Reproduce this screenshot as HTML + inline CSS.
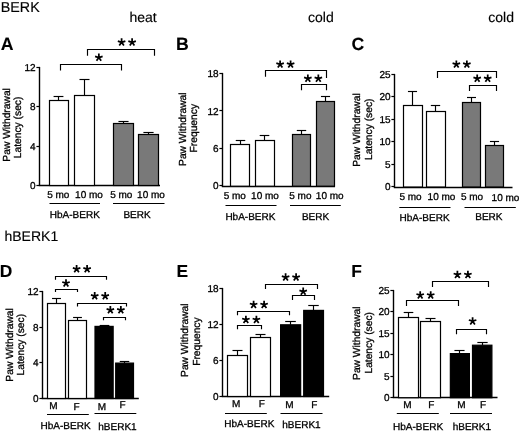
<!DOCTYPE html>
<html><head><meta charset="utf-8"><title>Figure</title>
<style>
html,body{margin:0;padding:0;background:#fff;}
body{width:520px;height:432px;overflow:hidden;}
svg{display:block;will-change:transform;font-family:"Liberation Sans",sans-serif;fill:#000;}
text{stroke:#000;stroke-width:0.3px;text-rendering:geometricPrecision;}
</style></head><body>
<svg width="520" height="432" viewBox="0 0 520 432">
<rect x="0" y="0" width="520" height="432" fill="#fff"/>
<text x="0.80" y="11.70" font-size="14.3" text-anchor="start" style="stroke-width:0.15px">BERK</text>
<text x="4.50" y="241.20" font-size="14" text-anchor="start" style="stroke-width:0.15px">hBERK1</text>
<text x="129.50" y="21.70" font-size="14" text-anchor="start" style="stroke-width:0.15px">heat</text>
<text x="308.00" y="21.70" font-size="14" text-anchor="start" style="stroke-width:0.15px">cold</text>
<text x="488.30" y="21.70" font-size="14" text-anchor="start" style="stroke-width:0.15px">cold</text>
<text x="0.80" y="50.30" font-size="17.7" text-anchor="start" font-weight="bold" style="stroke-width:0.1px">A</text>
<text x="176.00" y="50.30" font-size="17.7" text-anchor="start" font-weight="bold" style="stroke-width:0.1px">B</text>
<text x="351.40" y="50.10" font-size="17.7" text-anchor="start" font-weight="bold" style="stroke-width:0.1px">C</text>
<text x="-0.30" y="276.90" font-size="17.4" text-anchor="start" font-weight="bold" style="stroke-width:0.1px">D</text>
<text x="176.40" y="277.10" font-size="17.4" text-anchor="start" font-weight="bold" style="stroke-width:0.1px">E</text>
<text x="351.30" y="277.20" font-size="17.4" text-anchor="start" font-weight="bold" style="stroke-width:0.1px">F</text>
<path d="M39.50 66.90L39.50 185.50" stroke="#000" stroke-width="1.4" fill="none"/>
<path d="M38.80 185.50L160.00 185.50" stroke="#000" stroke-width="1.3" fill="none"/>
<path d="M36.40 67.50L39.50 67.50" stroke="#000" stroke-width="1.2" fill="none"/>
<text x="35.50" y="71.10" font-size="10" text-anchor="end">12</text>
<path d="M36.40 106.50L39.50 106.50" stroke="#000" stroke-width="1.2" fill="none"/>
<text x="35.50" y="110.30" font-size="10" text-anchor="end">8</text>
<path d="M36.40 146.50L39.50 146.50" stroke="#000" stroke-width="1.2" fill="none"/>
<text x="35.50" y="149.60" font-size="10" text-anchor="end">4</text>
<path d="M36.40 185.50L39.50 185.50" stroke="#000" stroke-width="1.2" fill="none"/>
<text x="35.50" y="188.90" font-size="10" text-anchor="end">0</text>
<path d="M58.50 100.50L58.50 96.50" stroke="#000" stroke-width="1.15" fill="none"/>
<path d="M53.58 96.50L63.42 96.50" stroke="#000" stroke-width="1.15" fill="none"/>
<rect x="49.50" y="100.50" width="19.00" height="85.00" fill="#fff" stroke="#000" stroke-width="1.2"/>
<path d="M84.50 95.50L84.50 79.50" stroke="#000" stroke-width="1.15" fill="none"/>
<path d="M79.50 79.50L89.50 79.50" stroke="#000" stroke-width="1.15" fill="none"/>
<rect x="74.50" y="95.50" width="20.00" height="90.00" fill="#fff" stroke="#000" stroke-width="1.2"/>
<path d="M123.50 123.50L123.50 121.50" stroke="#000" stroke-width="1.15" fill="none"/>
<path d="M118.45 121.50L128.55 121.50" stroke="#000" stroke-width="1.15" fill="none"/>
<rect x="113.50" y="123.50" width="20.00" height="62.00" fill="#797979" stroke="#000" stroke-width="1.2"/>
<path d="M148.50 134.50L148.50 132.50" stroke="#000" stroke-width="1.15" fill="none"/>
<path d="M143.40 132.50L153.60 132.50" stroke="#000" stroke-width="1.15" fill="none"/>
<rect x="138.50" y="134.50" width="20.00" height="51.00" fill="#797979" stroke="#000" stroke-width="1.2"/>
<path d="M60.50 70.50L60.50 64.50L121.50 64.50L121.50 70.50" stroke="#000" stroke-width="1.15" fill="none" stroke-linejoin="miter"/>
<path d="M87.50 55.70L87.50 49.50L154.50 49.50L154.50 55.70" stroke="#000" stroke-width="1.15" fill="none" stroke-linejoin="miter"/>
<path d="M98.85 57.55L98.85 53.60M98.85 57.55L102.61 56.33M98.85 57.55L101.17 60.75M98.85 57.55L96.53 60.75M98.85 57.55L95.09 56.33" stroke="#000" stroke-width="1.75" fill="none"/>
<path d="M121.60 42.30L121.60 38.35M121.60 42.30L125.36 41.08M121.60 42.30L123.92 45.50M121.60 42.30L119.28 45.50M121.60 42.30L117.84 41.08" stroke="#000" stroke-width="1.75" fill="none"/>
<path d="M132.10 42.30L132.10 38.35M132.10 42.30L135.86 41.08M132.10 42.30L134.42 45.50M132.10 42.30L129.78 45.50M132.10 42.30L128.34 41.08" stroke="#000" stroke-width="1.75" fill="none"/>
<text x="58.30" y="198.30" font-size="10" text-anchor="middle">5 mo</text>
<text x="89.00" y="198.30" font-size="10" text-anchor="middle">10 mo</text>
<text x="121.25" y="198.30" font-size="10" text-anchor="middle">5 mo</text>
<text x="151.00" y="198.30" font-size="10" text-anchor="middle">10 mo</text>
<path d="M49.50 203.50L100.00 203.50" stroke="#000" stroke-width="1.2" fill="none"/>
<path d="M113.00 203.50L164.50 203.50" stroke="#000" stroke-width="1.2" fill="none"/>
<text x="74.80" y="218.20" font-size="10" text-anchor="middle">HbA-BERK</text>
<text x="137.00" y="218.20" font-size="10" text-anchor="middle">BERK</text>
<text x="9.90" y="124.90" font-size="10.25" text-anchor="middle" transform="rotate(-90 9.90 124.90)">Paw Withdrawal</text>
<text x="21.40" y="127.40" font-size="10.25" text-anchor="middle" transform="rotate(-90 21.40 127.40)">Latency (sec)</text>
<path d="M222.50 72.90L222.50 186.50" stroke="#000" stroke-width="1.4" fill="none"/>
<path d="M221.80 186.50L335.00 186.50" stroke="#000" stroke-width="1.3" fill="none"/>
<path d="M219.40 73.50L222.50 73.50" stroke="#000" stroke-width="1.2" fill="none"/>
<text x="218.50" y="77.30" font-size="10" text-anchor="end">18</text>
<path d="M219.40 110.50L222.50 110.50" stroke="#000" stroke-width="1.2" fill="none"/>
<text x="218.50" y="114.50" font-size="10" text-anchor="end">12</text>
<path d="M219.40 148.50L222.50 148.50" stroke="#000" stroke-width="1.2" fill="none"/>
<text x="218.50" y="152.10" font-size="10" text-anchor="end">6</text>
<path d="M219.40 185.50L222.50 185.50" stroke="#000" stroke-width="1.2" fill="none"/>
<text x="218.50" y="189.40" font-size="10" text-anchor="end">0</text>
<path d="M240.50 144.50L240.50 140.50" stroke="#000" stroke-width="1.15" fill="none"/>
<path d="M235.75 140.50L245.25 140.50" stroke="#000" stroke-width="1.15" fill="none"/>
<rect x="230.50" y="144.50" width="19.00" height="41.70" fill="#fff" stroke="#000" stroke-width="1.2"/>
<path d="M264.50 140.50L264.50 135.50" stroke="#000" stroke-width="1.15" fill="none"/>
<path d="M259.68 135.50L269.32 135.50" stroke="#000" stroke-width="1.15" fill="none"/>
<rect x="255.50" y="140.50" width="19.00" height="45.70" fill="#fff" stroke="#000" stroke-width="1.2"/>
<path d="M301.50 134.50L301.50 130.50" stroke="#000" stroke-width="1.15" fill="none"/>
<path d="M296.80 130.50L306.20 130.50" stroke="#000" stroke-width="1.15" fill="none"/>
<rect x="292.50" y="134.50" width="18.00" height="51.70" fill="#797979" stroke="#000" stroke-width="1.2"/>
<path d="M325.50 101.50L325.50 96.50" stroke="#000" stroke-width="1.15" fill="none"/>
<path d="M320.95 96.50L330.05 96.50" stroke="#000" stroke-width="1.15" fill="none"/>
<rect x="316.50" y="101.50" width="18.00" height="84.70" fill="#797979" stroke="#000" stroke-width="1.2"/>
<path d="M265.50 76.70L265.50 70.50L326.50 70.50L326.50 78.00" stroke="#000" stroke-width="1.15" fill="none" stroke-linejoin="miter"/>
<path d="M301.50 90.20L301.50 84.50L326.50 84.50L326.50 90.20" stroke="#000" stroke-width="1.15" fill="none" stroke-linejoin="miter"/>
<path d="M280.10 64.40L280.10 60.45M280.10 64.40L283.86 63.18M280.10 64.40L282.42 67.60M280.10 64.40L277.78 67.60M280.10 64.40L276.34 63.18" stroke="#000" stroke-width="1.75" fill="none"/>
<path d="M290.60 64.40L290.60 60.45M290.60 64.40L294.36 63.18M290.60 64.40L292.92 67.60M290.60 64.40L288.28 67.60M290.60 64.40L286.84 63.18" stroke="#000" stroke-width="1.75" fill="none"/>
<path d="M307.85 78.55L307.85 74.60M307.85 78.55L311.61 77.33M307.85 78.55L310.17 81.75M307.85 78.55L305.53 81.75M307.85 78.55L304.09 77.33" stroke="#000" stroke-width="1.75" fill="none"/>
<path d="M318.35 78.55L318.35 74.60M318.35 78.55L322.11 77.33M318.35 78.55L320.67 81.75M318.35 78.55L316.03 81.75M318.35 78.55L314.59 77.33" stroke="#000" stroke-width="1.75" fill="none"/>
<text x="234.75" y="199.30" font-size="10" text-anchor="middle">5 mo</text>
<text x="265.00" y="199.30" font-size="10" text-anchor="middle">10 mo</text>
<text x="300.40" y="199.30" font-size="10" text-anchor="middle">5 mo</text>
<text x="329.75" y="199.30" font-size="10" text-anchor="middle">10 mo</text>
<path d="M225.50 205.50L276.50 205.50" stroke="#000" stroke-width="1.2" fill="none"/>
<path d="M290.00 205.50L340.80 205.50" stroke="#000" stroke-width="1.2" fill="none"/>
<text x="250.40" y="219.50" font-size="10" text-anchor="middle">HbA-BERK</text>
<text x="315.50" y="220.00" font-size="10" text-anchor="middle">BERK</text>
<text x="185.90" y="129.20" font-size="10.25" text-anchor="middle" transform="rotate(-90 185.90 129.20)">Paw Withdrawal</text>
<text x="197.50" y="128.20" font-size="10.25" text-anchor="middle" transform="rotate(-90 197.50 128.20)">Frequency</text>
<path d="M394.50 73.90L394.50 187.50" stroke="#000" stroke-width="1.4" fill="none"/>
<path d="M393.80 187.50L512.50 187.50" stroke="#000" stroke-width="1.3" fill="none"/>
<path d="M391.40 74.50L394.50 74.50" stroke="#000" stroke-width="1.2" fill="none"/>
<text x="390.50" y="77.80" font-size="10" text-anchor="end">25</text>
<path d="M391.40 96.50L394.50 96.50" stroke="#000" stroke-width="1.2" fill="none"/>
<text x="390.50" y="100.30" font-size="10" text-anchor="end">20</text>
<path d="M391.40 119.50L394.50 119.50" stroke="#000" stroke-width="1.2" fill="none"/>
<text x="390.50" y="122.80" font-size="10" text-anchor="end">15</text>
<path d="M391.40 141.50L394.50 141.50" stroke="#000" stroke-width="1.2" fill="none"/>
<text x="390.50" y="145.30" font-size="10" text-anchor="end">10</text>
<path d="M391.40 164.50L394.50 164.50" stroke="#000" stroke-width="1.2" fill="none"/>
<text x="390.50" y="167.80" font-size="10" text-anchor="end">5</text>
<path d="M391.40 186.50L394.50 186.50" stroke="#000" stroke-width="1.2" fill="none"/>
<text x="390.50" y="190.10" font-size="10" text-anchor="end">0</text>
<path d="M412.50 105.50L412.50 91.50" stroke="#000" stroke-width="1.15" fill="none"/>
<path d="M407.95 91.50L417.05 91.50" stroke="#000" stroke-width="1.15" fill="none"/>
<rect x="403.50" y="105.50" width="19.00" height="81.50" fill="#fff" stroke="#000" stroke-width="1.2"/>
<path d="M435.50 111.50L435.50 105.50" stroke="#000" stroke-width="1.15" fill="none"/>
<path d="M430.82 105.50L440.18 105.50" stroke="#000" stroke-width="1.15" fill="none"/>
<rect x="426.50" y="111.50" width="19.00" height="75.50" fill="#fff" stroke="#000" stroke-width="1.2"/>
<path d="M471.50 102.50L471.50 97.50" stroke="#000" stroke-width="1.15" fill="none"/>
<path d="M467.00 97.50L476.00 97.50" stroke="#000" stroke-width="1.15" fill="none"/>
<rect x="462.50" y="102.50" width="18.00" height="84.50" fill="#797979" stroke="#000" stroke-width="1.2"/>
<path d="M494.50 145.50L494.50 141.50" stroke="#000" stroke-width="1.15" fill="none"/>
<path d="M489.93 141.50L499.07 141.50" stroke="#000" stroke-width="1.15" fill="none"/>
<rect x="485.50" y="145.50" width="18.00" height="41.50" fill="#797979" stroke="#000" stroke-width="1.2"/>
<path d="M437.50 78.00L437.50 71.50L496.50 71.50L496.50 78.00" stroke="#000" stroke-width="1.15" fill="none" stroke-linejoin="miter"/>
<path d="M469.50 91.00L469.50 85.50L496.50 85.50L496.50 91.00" stroke="#000" stroke-width="1.15" fill="none" stroke-linejoin="miter"/>
<path d="M456.35 64.40L456.35 60.45M456.35 64.40L460.11 63.18M456.35 64.40L458.67 67.60M456.35 64.40L454.03 67.60M456.35 64.40L452.59 63.18" stroke="#000" stroke-width="1.75" fill="none"/>
<path d="M466.85 64.40L466.85 60.45M466.85 64.40L470.61 63.18M466.85 64.40L469.17 67.60M466.85 64.40L464.53 67.60M466.85 64.40L463.09 63.18" stroke="#000" stroke-width="1.75" fill="none"/>
<path d="M477.20 78.55L477.20 74.60M477.20 78.55L480.96 77.33M477.20 78.55L479.52 81.75M477.20 78.55L474.88 81.75M477.20 78.55L473.44 77.33" stroke="#000" stroke-width="1.75" fill="none"/>
<path d="M487.70 78.55L487.70 74.60M487.70 78.55L491.46 77.33M487.70 78.55L490.02 81.75M487.70 78.55L485.38 81.75M487.70 78.55L483.94 77.33" stroke="#000" stroke-width="1.75" fill="none"/>
<text x="410.50" y="200.20" font-size="10" text-anchor="middle">5 mo</text>
<text x="441.50" y="200.20" font-size="10" text-anchor="middle">10 mo</text>
<text x="472.00" y="200.30" font-size="10" text-anchor="middle">5 mo</text>
<text x="505.50" y="201.00" font-size="10" text-anchor="middle">10 mo</text>
<path d="M399.30 207.50L450.50 207.50" stroke="#000" stroke-width="1.2" fill="none"/>
<path d="M464.50 207.50L515.80 207.50" stroke="#000" stroke-width="1.2" fill="none"/>
<text x="424.60" y="220.50" font-size="10" text-anchor="middle">HbA-BERK</text>
<text x="488.90" y="220.20" font-size="10" text-anchor="middle">BERK</text>
<text x="360.30" y="130.00" font-size="10.25" text-anchor="middle" transform="rotate(-90 360.30 130.00)">Paw Withdrawal</text>
<text x="371.90" y="129.30" font-size="10.25" text-anchor="middle" transform="rotate(-90 371.90 129.30)">Latency (sec)</text>
<path d="M42.50 290.90L42.50 398.50" stroke="#000" stroke-width="1.4" fill="none"/>
<path d="M41.80 398.50L138.80 398.50" stroke="#000" stroke-width="1.3" fill="none"/>
<path d="M39.40 291.50L42.50 291.50" stroke="#000" stroke-width="1.2" fill="none"/>
<text x="38.50" y="294.90" font-size="10" text-anchor="end">12</text>
<path d="M39.40 327.50L42.50 327.50" stroke="#000" stroke-width="1.2" fill="none"/>
<text x="38.50" y="330.60" font-size="10" text-anchor="end">8</text>
<path d="M39.40 362.50L42.50 362.50" stroke="#000" stroke-width="1.2" fill="none"/>
<text x="38.50" y="366.40" font-size="10" text-anchor="end">4</text>
<path d="M39.40 398.50L42.50 398.50" stroke="#000" stroke-width="1.2" fill="none"/>
<text x="38.50" y="401.90" font-size="10" text-anchor="end">0</text>
<path d="M56.50 303.50L56.50 298.50" stroke="#000" stroke-width="1.15" fill="none"/>
<path d="M52.05 298.50L60.95 298.50" stroke="#000" stroke-width="1.15" fill="none"/>
<rect x="47.50" y="303.50" width="18.00" height="95.00" fill="#fff" stroke="#000" stroke-width="1.2"/>
<path d="M77.50 320.50L77.50 317.50" stroke="#000" stroke-width="1.15" fill="none"/>
<path d="M73.08 317.50L81.92 317.50" stroke="#000" stroke-width="1.15" fill="none"/>
<rect x="68.50" y="320.50" width="18.00" height="78.00" fill="#fff" stroke="#000" stroke-width="1.2"/>
<path d="M104.50 326.40L104.50 325.50" stroke="#000" stroke-width="1.15" fill="none"/>
<path d="M99.66 325.50L109.34 325.50" stroke="#000" stroke-width="1.15" fill="none"/>
<rect x="95.00" y="326.40" width="18.15" height="72.10" fill="#000" stroke="#000" stroke-width="1.2"/>
<path d="M124.50 363.10L124.50 361.50" stroke="#000" stroke-width="1.15" fill="none"/>
<path d="M119.75 361.50L129.25 361.50" stroke="#000" stroke-width="1.15" fill="none"/>
<rect x="115.70" y="363.10" width="17.80" height="35.40" fill="#000" stroke="#000" stroke-width="1.2"/>
<path d="M55.50 279.70L55.50 276.50L106.50 276.50L106.50 279.70" stroke="#000" stroke-width="1.15" fill="none" stroke-linejoin="miter"/>
<path d="M55.50 292.00L55.50 289.50L77.50 289.50L77.50 292.00" stroke="#000" stroke-width="1.15" fill="none" stroke-linejoin="miter"/>
<path d="M77.50 306.40L77.50 303.50L126.50 303.50L126.50 306.40" stroke="#000" stroke-width="1.15" fill="none" stroke-linejoin="miter"/>
<path d="M103.50 320.30L103.50 317.50L125.50 317.50L125.50 320.30" stroke="#000" stroke-width="1.15" fill="none" stroke-linejoin="miter"/>
<path d="M76.60 269.05L76.60 265.10M76.60 269.05L80.36 267.83M76.60 269.05L78.92 272.25M76.60 269.05L74.28 272.25M76.60 269.05L72.84 267.83" stroke="#000" stroke-width="1.75" fill="none"/>
<path d="M87.10 269.05L87.10 265.10M87.10 269.05L90.86 267.83M87.10 269.05L89.42 272.25M87.10 269.05L84.78 272.25M87.10 269.05L83.34 267.83" stroke="#000" stroke-width="1.75" fill="none"/>
<path d="M66.00 283.20L66.00 279.25M66.00 283.20L69.76 281.98M66.00 283.20L68.32 286.40M66.00 283.20L63.68 286.40M66.00 283.20L62.24 281.98" stroke="#000" stroke-width="1.75" fill="none"/>
<path d="M94.70 296.05L94.70 292.10M94.70 296.05L98.46 294.83M94.70 296.05L97.02 299.25M94.70 296.05L92.38 299.25M94.70 296.05L90.94 294.83" stroke="#000" stroke-width="1.75" fill="none"/>
<path d="M105.20 296.05L105.20 292.10M105.20 296.05L108.96 294.83M105.20 296.05L107.52 299.25M105.20 296.05L102.88 299.25M105.20 296.05L101.44 294.83" stroke="#000" stroke-width="1.75" fill="none"/>
<path d="M110.35 310.05L110.35 306.10M110.35 310.05L114.11 308.83M110.35 310.05L112.67 313.25M110.35 310.05L108.03 313.25M110.35 310.05L106.59 308.83" stroke="#000" stroke-width="1.75" fill="none"/>
<path d="M120.85 310.05L120.85 306.10M120.85 310.05L124.61 308.83M120.85 310.05L123.17 313.25M120.85 310.05L118.53 313.25M120.85 310.05L117.09 308.83" stroke="#000" stroke-width="1.75" fill="none"/>
<text x="53.40" y="409.00" font-size="10" text-anchor="middle">M</text>
<text x="76.50" y="410.20" font-size="10" text-anchor="middle">F</text>
<text x="101.90" y="410.20" font-size="10" text-anchor="middle">M</text>
<text x="122.50" y="408.30" font-size="10" text-anchor="middle">F</text>
<path d="M47.00 414.50L88.80 414.50" stroke="#000" stroke-width="1.2" fill="none"/>
<path d="M94.50 413.50L136.30 413.50" stroke="#000" stroke-width="1.2" fill="none"/>
<text x="65.60" y="429.00" font-size="10" text-anchor="middle">HbA-BERK</text>
<text x="117.50" y="430.20" font-size="10" text-anchor="middle">hBERK1</text>
<text x="12.60" y="344.90" font-size="10.25" text-anchor="middle" transform="rotate(-90 12.60 344.90)">Paw Withdrawal</text>
<text x="24.00" y="344.70" font-size="10.25" text-anchor="middle" transform="rotate(-90 24.00 344.70)">Latency (sec)</text>
<path d="M222.50 287.90L222.50 396.50" stroke="#000" stroke-width="1.4" fill="none"/>
<path d="M221.80 396.50L329.20 396.50" stroke="#000" stroke-width="1.3" fill="none"/>
<path d="M219.40 288.50L222.50 288.50" stroke="#000" stroke-width="1.2" fill="none"/>
<text x="218.50" y="292.10" font-size="10" text-anchor="end">18</text>
<path d="M219.40 324.50L222.50 324.50" stroke="#000" stroke-width="1.2" fill="none"/>
<text x="218.50" y="328.20" font-size="10" text-anchor="end">12</text>
<path d="M219.40 360.50L222.50 360.50" stroke="#000" stroke-width="1.2" fill="none"/>
<text x="218.50" y="364.00" font-size="10" text-anchor="end">6</text>
<path d="M219.40 396.50L222.50 396.50" stroke="#000" stroke-width="1.2" fill="none"/>
<text x="218.50" y="399.90" font-size="10" text-anchor="end">0</text>
<path d="M237.50 355.50L237.50 350.50" stroke="#000" stroke-width="1.15" fill="none"/>
<path d="M232.50 350.50L242.50 350.50" stroke="#000" stroke-width="1.15" fill="none"/>
<rect x="227.50" y="355.50" width="20.00" height="41.00" fill="#fff" stroke="#000" stroke-width="1.2"/>
<path d="M260.50 337.50L260.50 334.50" stroke="#000" stroke-width="1.15" fill="none"/>
<path d="M255.50 334.50L265.50 334.50" stroke="#000" stroke-width="1.15" fill="none"/>
<rect x="250.50" y="337.50" width="20.00" height="59.00" fill="#fff" stroke="#000" stroke-width="1.2"/>
<path d="M290.50 324.80L290.50 321.50" stroke="#000" stroke-width="1.15" fill="none"/>
<path d="M285.19 321.50L295.81 321.50" stroke="#000" stroke-width="1.15" fill="none"/>
<rect x="280.60" y="324.80" width="20.05" height="71.70" fill="#000" stroke="#000" stroke-width="1.2"/>
<path d="M313.50 310.40L313.50 305.50" stroke="#000" stroke-width="1.15" fill="none"/>
<path d="M308.25 305.50L318.75 305.50" stroke="#000" stroke-width="1.15" fill="none"/>
<rect x="303.70" y="310.40" width="19.80" height="86.10" fill="#000" stroke="#000" stroke-width="1.2"/>
<path d="M265.50 288.90L265.50 284.50L317.50 284.50L317.50 288.90" stroke="#000" stroke-width="1.15" fill="none" stroke-linejoin="miter"/>
<path d="M292.50 300.00L292.50 295.50L314.50 295.50L314.50 300.00" stroke="#000" stroke-width="1.15" fill="none" stroke-linejoin="miter"/>
<path d="M237.50 315.20L237.50 311.50L289.50 311.50L289.50 315.20" stroke="#000" stroke-width="1.15" fill="none" stroke-linejoin="miter"/>
<path d="M237.50 329.30L237.50 325.50L261.50 325.50L261.50 329.30" stroke="#000" stroke-width="1.15" fill="none" stroke-linejoin="miter"/>
<path d="M285.60 277.30L285.60 273.35M285.60 277.30L289.36 276.08M285.60 277.30L287.92 280.50M285.60 277.30L283.28 280.50M285.60 277.30L281.84 276.08" stroke="#000" stroke-width="1.75" fill="none"/>
<path d="M296.10 277.30L296.10 273.35M296.10 277.30L299.86 276.08M296.10 277.30L298.42 280.50M296.10 277.30L293.78 280.50M296.10 277.30L292.34 276.08" stroke="#000" stroke-width="1.75" fill="none"/>
<path d="M303.20 291.55L303.20 287.60M303.20 291.55L306.96 290.33M303.20 291.55L305.52 294.75M303.20 291.55L300.88 294.75M303.20 291.55L299.44 290.33" stroke="#000" stroke-width="1.75" fill="none"/>
<path d="M253.60 304.70L253.60 300.75M253.60 304.70L257.36 303.48M253.60 304.70L255.92 307.90M253.60 304.70L251.28 307.90M253.60 304.70L249.84 303.48" stroke="#000" stroke-width="1.75" fill="none"/>
<path d="M264.10 304.70L264.10 300.75M264.10 304.70L267.86 303.48M264.10 304.70L266.42 307.90M264.10 304.70L261.78 307.90M264.10 304.70L260.34 303.48" stroke="#000" stroke-width="1.75" fill="none"/>
<path d="M245.90 319.70L245.90 315.75M245.90 319.70L249.66 318.48M245.90 319.70L248.22 322.90M245.90 319.70L243.58 322.90M245.90 319.70L242.14 318.48" stroke="#000" stroke-width="1.75" fill="none"/>
<path d="M256.40 319.70L256.40 315.75M256.40 319.70L260.16 318.48M256.40 319.70L258.72 322.90M256.40 319.70L254.08 322.90M256.40 319.70L252.64 318.48" stroke="#000" stroke-width="1.75" fill="none"/>
<text x="236.20" y="407.40" font-size="10" text-anchor="middle">M</text>
<text x="261.70" y="407.40" font-size="10" text-anchor="middle">F</text>
<text x="289.40" y="407.60" font-size="10" text-anchor="middle">M</text>
<text x="314.40" y="407.60" font-size="10" text-anchor="middle">F</text>
<path d="M225.00 413.50L266.80 413.50" stroke="#000" stroke-width="1.2" fill="none"/>
<path d="M280.50 413.50L322.50 413.50" stroke="#000" stroke-width="1.2" fill="none"/>
<text x="249.30" y="427.40" font-size="10" text-anchor="middle">HbA-BERK</text>
<text x="301.50" y="428.30" font-size="10" text-anchor="middle">hBERK1</text>
<text x="188.20" y="340.20" font-size="10.25" text-anchor="middle" transform="rotate(-90 188.20 340.20)">Paw Withdrawal</text>
<text x="200.00" y="341.60" font-size="10.25" text-anchor="middle" transform="rotate(-90 200.00 341.60)">Frequency</text>
<path d="M393.50 289.90L393.50 397.50" stroke="#000" stroke-width="1.4" fill="none"/>
<path d="M392.80 397.50L497.50 397.50" stroke="#000" stroke-width="1.3" fill="none"/>
<path d="M390.40 290.50L393.50 290.50" stroke="#000" stroke-width="1.2" fill="none"/>
<text x="389.50" y="293.60" font-size="10" text-anchor="end">25</text>
<path d="M390.40 311.50L393.50 311.50" stroke="#000" stroke-width="1.2" fill="none"/>
<text x="389.50" y="315.20" font-size="10" text-anchor="end">20</text>
<path d="M390.40 333.50L393.50 333.50" stroke="#000" stroke-width="1.2" fill="none"/>
<text x="389.50" y="336.80" font-size="10" text-anchor="end">15</text>
<path d="M390.40 354.50L393.50 354.50" stroke="#000" stroke-width="1.2" fill="none"/>
<text x="389.50" y="358.20" font-size="10" text-anchor="end">10</text>
<path d="M390.40 376.50L393.50 376.50" stroke="#000" stroke-width="1.2" fill="none"/>
<text x="389.50" y="379.60" font-size="10" text-anchor="end">5</text>
<path d="M390.40 397.50L393.50 397.50" stroke="#000" stroke-width="1.2" fill="none"/>
<text x="389.50" y="401.10" font-size="10" text-anchor="end">0</text>
<path d="M408.50 317.50L408.50 312.50" stroke="#000" stroke-width="1.15" fill="none"/>
<path d="M403.70 312.50L413.30 312.50" stroke="#000" stroke-width="1.15" fill="none"/>
<rect x="398.50" y="317.50" width="20.00" height="80.20" fill="#fff" stroke="#000" stroke-width="1.2"/>
<path d="M430.50 321.50L430.50 318.50" stroke="#000" stroke-width="1.15" fill="none"/>
<path d="M425.50 318.50L435.50 318.50" stroke="#000" stroke-width="1.15" fill="none"/>
<rect x="420.50" y="321.50" width="20.00" height="76.20" fill="#fff" stroke="#000" stroke-width="1.2"/>
<path d="M459.50 353.60L459.50 350.50" stroke="#000" stroke-width="1.15" fill="none"/>
<path d="M454.44 350.50L464.56 350.50" stroke="#000" stroke-width="1.15" fill="none"/>
<rect x="450.35" y="353.60" width="19.05" height="44.10" fill="#000" stroke="#000" stroke-width="1.2"/>
<path d="M482.50 345.20L482.50 342.50" stroke="#000" stroke-width="1.15" fill="none"/>
<path d="M477.35 342.50L487.65 342.50" stroke="#000" stroke-width="1.15" fill="none"/>
<rect x="472.50" y="345.20" width="19.40" height="52.50" fill="#000" stroke="#000" stroke-width="1.2"/>
<path d="M432.50 287.00L432.50 281.50L488.50 281.50L488.50 287.00" stroke="#000" stroke-width="1.15" fill="none" stroke-linejoin="miter"/>
<path d="M406.50 306.00L406.50 300.50L458.50 300.50L458.50 306.00" stroke="#000" stroke-width="1.15" fill="none" stroke-linejoin="miter"/>
<path d="M456.50 334.20L456.50 329.50L486.50 329.50L486.50 334.20" stroke="#000" stroke-width="1.15" fill="none" stroke-linejoin="miter"/>
<path d="M457.40 274.70L457.40 270.75M457.40 274.70L461.16 273.48M457.40 274.70L459.72 277.90M457.40 274.70L455.08 277.90M457.40 274.70L453.64 273.48" stroke="#000" stroke-width="1.75" fill="none"/>
<path d="M467.90 274.70L467.90 270.75M467.90 274.70L471.66 273.48M467.90 274.70L470.22 277.90M467.90 274.70L465.58 277.90M467.90 274.70L464.14 273.48" stroke="#000" stroke-width="1.75" fill="none"/>
<path d="M420.20 295.20L420.20 291.25M420.20 295.20L423.96 293.98M420.20 295.20L422.52 298.40M420.20 295.20L417.88 298.40M420.20 295.20L416.44 293.98" stroke="#000" stroke-width="1.75" fill="none"/>
<path d="M430.70 295.20L430.70 291.25M430.70 295.20L434.46 293.98M430.70 295.20L433.02 298.40M430.70 295.20L428.38 298.40M430.70 295.20L426.94 293.98" stroke="#000" stroke-width="1.75" fill="none"/>
<path d="M472.60 321.20L472.60 317.25M472.60 321.20L476.36 319.98M472.60 321.20L474.92 324.40M472.60 321.20L470.28 324.40M472.60 321.20L468.84 319.98" stroke="#000" stroke-width="1.75" fill="none"/>
<text x="407.40" y="408.30" font-size="10" text-anchor="middle">M</text>
<text x="431.30" y="408.30" font-size="10" text-anchor="middle">F</text>
<text x="461.40" y="408.30" font-size="10" text-anchor="middle">M</text>
<text x="483.10" y="408.30" font-size="10" text-anchor="middle">F</text>
<path d="M396.80 413.50L438.80 413.50" stroke="#000" stroke-width="1.2" fill="none"/>
<path d="M450.00 413.50L492.00 413.50" stroke="#000" stroke-width="1.2" fill="none"/>
<text x="418.10" y="430.30" font-size="10" text-anchor="middle">HbA-BERK</text>
<text x="471.90" y="430.30" font-size="10" text-anchor="middle">hBERK1</text>
<text x="360.30" y="343.20" font-size="10.25" text-anchor="middle" transform="rotate(-90 360.30 343.20)">Paw Withdrawal</text>
<text x="371.90" y="342.80" font-size="10.25" text-anchor="middle" transform="rotate(-90 371.90 342.80)">Latency (sec)</text>
</svg>
</body></html>
